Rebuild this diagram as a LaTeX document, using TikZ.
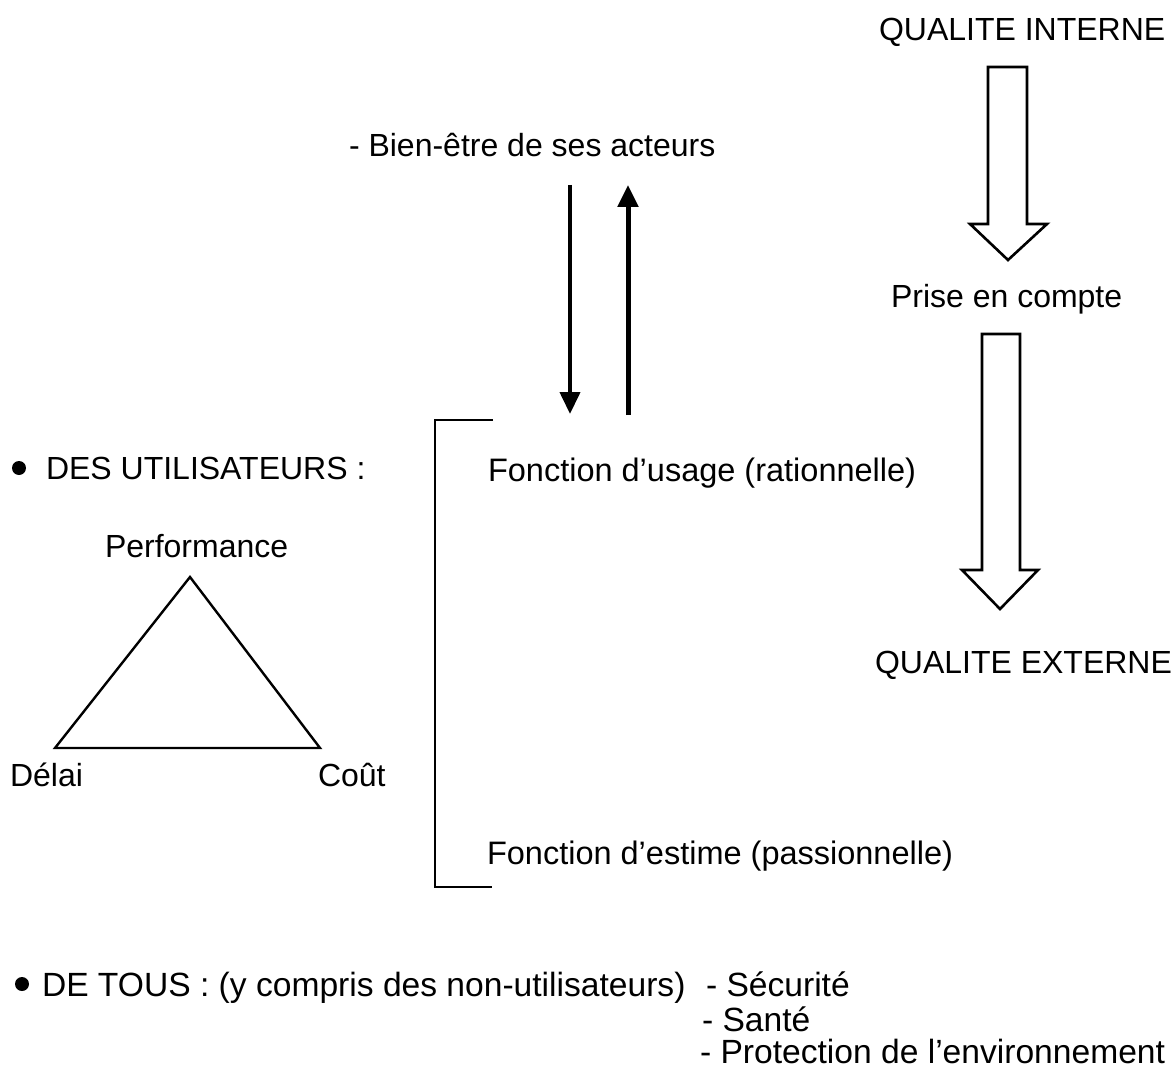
\documentclass[tikz,border=0pt]{standalone}
\usepackage{fontspec}
\setmainfont{Liberation Sans}
\usetikzlibrary{arrows.meta}
\begin{document}
\begin{tikzpicture}[x=1pt,y=-1pt,
  txt/.style={inner sep=0pt, outer sep=0pt, anchor=base west, font=\fontsize{32}{38}\selectfont},
  bigtxt/.style={txt, font=\fontsize{33.6}{40}\selectfont},
  midtxt/.style={txt, font=\fontsize{32.5}{39}\selectfont},
  hollow/.style={draw=black, line width=2.6pt, line join=miter, fill=white},
  thinline/.style={draw=black, line width=2.4pt},
  darrow/.style={draw=black, line width=4pt, -{Triangle[width=20pt,length=22pt]}},
  uarrow/.style={draw=black, line width=5pt, -{Triangle[width=20pt,length=22pt]}},
  bulletdot/.style={circle, fill=black, inner sep=0pt, minimum size=14pt}]
\useasboundingbox (0,0) rectangle (1172,1078);

% top right chain
\node[txt] (qi) at (879,41) {QUALITE INTERNE};
\node[txt] (pc) at (891,307) {Prise en compte};
\node[txt] (qe) at (875,673) {QUALITE EXTERNE};

% hollow arrow 1
\draw[hollow] (988,67) -- (1027,67) -- (1027,224) -- (1047,224) -- (1008,260) -- (970,224) -- (988,224) -- cycle;
% hollow arrow 2
\draw[hollow] (982,334) -- (1020,334) -- (1020,570) -- (1038,570) -- (1000,609) -- (962,570) -- (982,570) -- cycle;

% well-being
\node[txt] (be) at (349,157) {- Bien-être de ses acteurs};
\coordinate (dtop) at (570,185);
\coordinate (dbot) at (570,414);
\coordinate (ubot) at (628,415);
\coordinate (utop) at (628,185);
\draw[darrow] (dtop) -- (dbot);
\draw[uarrow] (ubot) -- (utop);

% bracket
\coordinate (b1) at (493,420);
\coordinate (b2) at (435,420);
\coordinate (b3) at (435,887);
\coordinate (b4) at (492,887);
\draw[thinline] (b1) -- (b2) -- (b3) -- (b4);

\node[midtxt] (fu) at (488,481) {Fonction d’usage (rationnelle)};
\node[midtxt] (fe) at (487,864) {Fonction d’estime (passionnelle)};

% users
\node[bulletdot] (bu1) at (19,468) {};
\node[txt] (du) at (46,479) {DES UTILISATEURS :};

\node[txt] (perf) at (105,557) {Performance};
\coordinate (tA) at (190,577);
\coordinate (tL) at (55,748);
\coordinate (tR) at (320,748);
\draw[thinline, line join=miter] (tA) -- (tL) -- (tR) -- cycle;
\node[txt] (del) at (10,786) {Délai};
\node[txt] (cou) at (318,786) {Coût};

% everyone
\node[bulletdot] (bu2) at (22,984) {};
\node[bigtxt] (dt) at (42,996) {DE TOUS : (y compris des non-utilisateurs)};
\node[bigtxt] (s1) at (706,996) {- Sécurité};
\node[bigtxt] (s2) at (702,1031) {- Santé};
\node[bigtxt] (s3) at (700,1063) {- Protection de l’environnement};
\end{tikzpicture}
\end{document}
